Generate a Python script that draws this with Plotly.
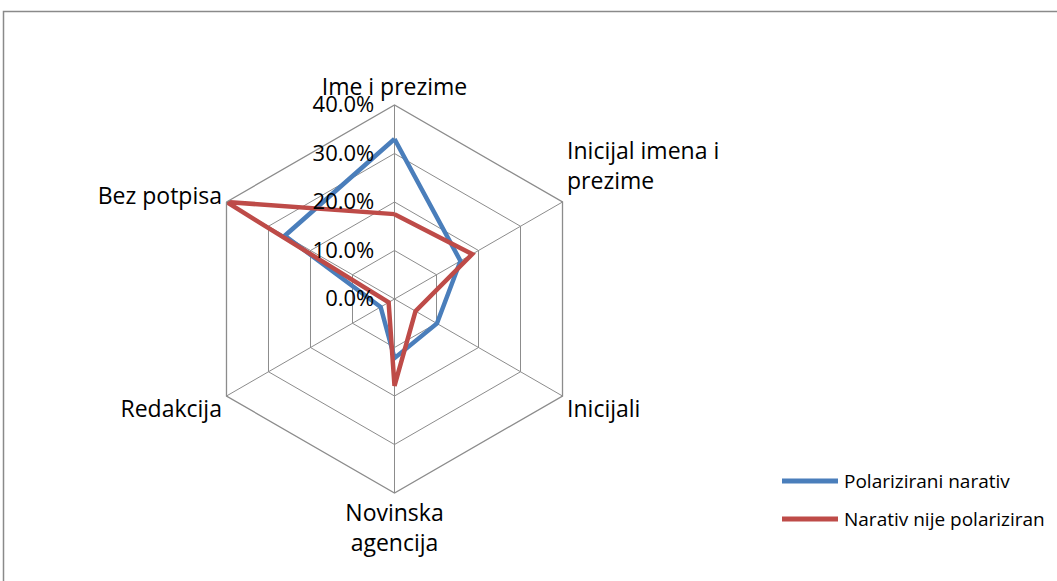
import plotly.graph_objects as go

# Share of articles by byline type, in percent
categories = ["Ime i prezime", "Inicijal imena i prezime", "Inicijali",
              "Novinska agencija", "Redakcija", "Bez potpisa"]
category_labels = ["Ime i prezime", "Inicijal imena i<br>prezime<br> ", "Inicijali",
                   "Novinska<br>agencija", "Redakcija", "Bez potpisa"]
series_names = ["Polarizirani narativ", "Narativ nije polariziran"]
polarized = [33.0, 15.7, 10.1, 12.2, 3.3, 26.1]
not_polarized = [17.5, 18.5, 5.0, 17.9, 1.4, 40.0]
radial_ticks = [0, 10, 20, 30, 40]
radial_labels = ["0.0%", "10.0%", "20.0%", "30.0%", "40.0%"]
colors = ["#4A7EBB", "#BE4B48"]

W, H = 1057, 581
cx, cy, R = 394.5, 299, 194  # centre and outer radius, px

fig = go.Figure()
for name, vals, col in zip(series_names, [polarized, not_polarized], colors):
    fig.add_trace(go.Scatterpolar(
        r=vals + vals[:1],
        theta=categories + categories[:1],
        mode="lines",
        name=name,
        line=dict(color=col, width=4.5),
        showlegend=False,
    ))

grid_col = "#8C8C8C"
fig.update_layout(
    width=W, height=H,
    margin=dict(l=0, r=0, t=0, b=0),
    paper_bgcolor="white",
    font=dict(family="Open Sans", color="black"),
    polar=dict(
        domain=dict(x=[(cx - R) / W, (cx + R) / W],
                    y=[(H - cy - R) / H, (H - cy + R) / H]),
        bgcolor="white",
        gridshape="linear",
        angularaxis=dict(
            rotation=90, direction="clockwise",
            tickvals=categories, ticktext=category_labels,
            showline=True, linecolor=grid_col, linewidth=1.3,
            showgrid=True, gridcolor=grid_col, gridwidth=1.3,
            ticks="", tickfont=dict(size=23),
        ),
        radialaxis=dict(
            range=[0, 40], angle=90, side="counterclockwise",
            tickvals=radial_ticks, ticktext=radial_labels,
            tickangle=90,
            showline=False,
            ticks="outside", ticklen=12, tickcolor="rgba(0,0,0,0)",
            showgrid=True, gridcolor=grid_col, gridwidth=1.3,
            tickfont=dict(size=22),
        ),
    ),
)

# Chart area border (top and left edges visible)
fig.add_shape(type="rect", xref="paper", yref="paper",
              x0=3.5 / W, x1=1.05, y0=-0.05, y1=1 - 11.5 / H,
              line=dict(color="#8A8A8A", width=1.5), fillcolor="rgba(0,0,0,0)")

# Legend drawn as line samples with labels
legend_y = [481, 519]
for name, col, ly in zip(series_names, colors, legend_y):
    fig.add_shape(type="line", xref="paper", yref="paper",
                  x0=782 / W, x1=838 / W, y0=1 - ly / H, y1=1 - ly / H,
                  line=dict(color=col, width=5))
    fig.add_annotation(xref="paper", yref="paper", x=842 / W, y=1 - ly / H,
                       text=name, showarrow=False, xanchor="left", yanchor="middle",
                       font=dict(size=19, family="Open Sans", color="black"))

fig.write_html("out.html")
